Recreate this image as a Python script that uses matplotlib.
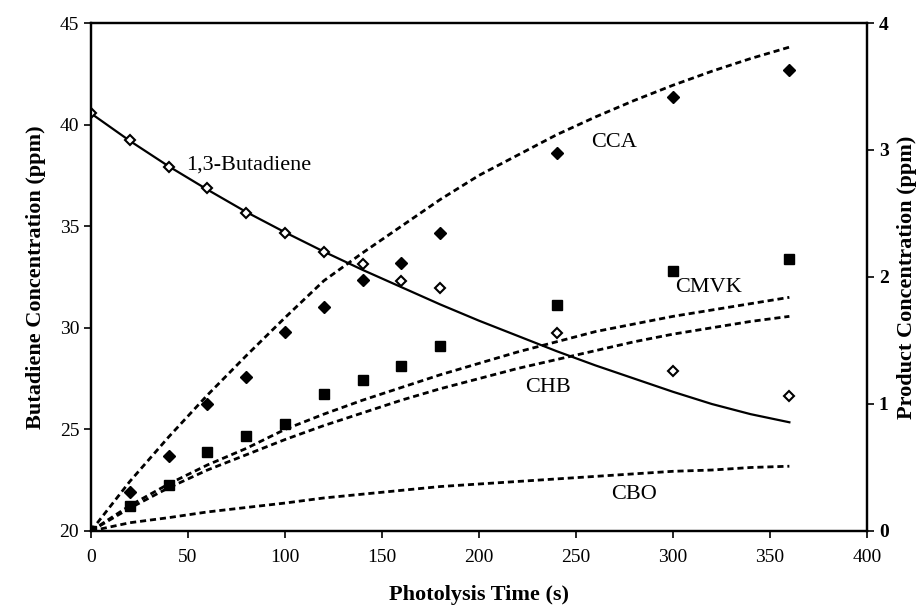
import numpy as np
import matplotlib.pyplot as plt

plt.rcParams['font.family'] = ['Liberation Serif', 'DejaVu Serif']

# measured times (s)
t_meas = [0, 20, 40, 60, 80, 100, 120, 140, 160, 180, 240, 300, 360]
butadiene_meas = [40.55, 39.24, 37.91, 36.88, 35.65, 34.67, 33.73, 33.14, 32.30, 31.96, 29.74, 27.87, 26.64]
cca_meas = [0.0, 0.31, 0.59, 1.00, 1.21, 1.57, 1.76, 1.98, 2.11, 2.35, 2.98, 3.42, 3.63]
cmvk_meas = [0.0, 0.20, 0.36, 0.62, 0.75, 0.84, 1.08, 1.19, 1.30, 1.46, 1.78, 2.05, 2.14]

# model curves
t_model = [0, 20, 40, 60, 80, 100, 120, 140, 160, 180, 200, 220, 240, 260, 280, 300, 320, 340, 360]
butadiene_model = [40.55, 39.2, 37.95, 36.8, 35.7, 34.7, 33.75, 32.85, 32.0, 31.15, 30.35, 29.6,
                   28.85, 28.15, 27.5, 26.85, 26.25, 25.75, 25.35]
cca_model = [0.0, 0.39, 0.74, 1.07, 1.38, 1.68, 1.97, 2.19, 2.40, 2.61, 2.80, 2.96,
             3.12, 3.26, 3.39, 3.51, 3.62, 3.72, 3.81]
cmvk_model = [0.0, 0.20, 0.37, 0.52, 0.65, 0.80, 0.92, 1.03, 1.13, 1.23, 1.32, 1.41,
              1.49, 1.57, 1.63, 1.69, 1.74, 1.79, 1.84]
chb_model = [0.0, 0.18, 0.34, 0.48, 0.60, 0.72, 0.83, 0.93, 1.03, 1.12, 1.20, 1.28,
             1.35, 1.42, 1.49, 1.55, 1.60, 1.65, 1.69]
cbo_model = [0.0, 0.065, 0.105, 0.15, 0.185, 0.22, 0.26, 0.29, 0.32, 0.35, 0.37, 0.39,
             0.41, 0.43, 0.45, 0.47, 0.48, 0.50, 0.51]

fig = plt.figure(figsize=(9.23, 6.15), dpi=100)
ax = fig.add_axes([0.0986, 0.1366, 0.8407, 0.826])
ax2 = ax.twinx()

dots = (0, (2.2, 1.4))
ax.plot(t_model, butadiene_model, color='black', lw=1.6, zorder=3)
ax.plot(t_meas, butadiene_meas, linestyle='none', marker='D', markersize=5,
        markerfacecolor='white', markeredgecolor='black', markeredgewidth=1.5, zorder=4)

for curve in (cca_model, cmvk_model, chb_model, cbo_model):
    ax2.plot(t_model, curve, color='black', lw=2.0, linestyle=dots)
ax2.plot(t_meas, cca_meas, linestyle='none', marker='D', markersize=6,
         color='black')
ax2.plot(t_meas, cmvk_meas, linestyle='none', marker='s', markersize=6.5,
         color='black')

ax.set_xlim(0, 400)
ax.set_ylim(20, 45)
ax2.set_ylim(0, 4)
ax.set_xticks(np.arange(0, 401, 50))
ax.set_yticks(np.arange(20, 46, 5))
ax2.set_yticks(np.arange(0, 5, 1))

for a in (ax, ax2):
    for s in a.spines.values():
        s.set_linewidth(1.6)
ax.tick_params(labelsize=14, width=1.2, length=5)
ax.tick_params(axis='x', pad=8)
ax2.tick_params(labelsize=14, width=1.2, length=5)
for lab in ax2.get_yticklabels():
    lab.set_fontweight('bold')

ax.set_xlabel('Photolysis Time (s)', fontsize=16, fontweight='bold', labelpad=14)
ax.set_ylabel('Butadiene Concentration (ppm)', fontsize=16, fontweight='bold', labelpad=10)
ax2.set_ylabel('Product Concentration (ppm)', fontsize=16, fontweight='bold', labelpad=6)

ax.text(49, 38.0, '1,3-Butadiene', fontsize=16, va='center')
ax2.text(258, 3.06, 'CCA', fontsize=16, va='center')
ax2.text(301, 1.92, 'CMVK', fontsize=16, va='center')
ax2.text(224, 1.13, 'CHB', fontsize=16, va='center')
ax2.text(268, 0.29, 'CBO', fontsize=16, va='center')

fig.savefig('out.png', dpi=100)
